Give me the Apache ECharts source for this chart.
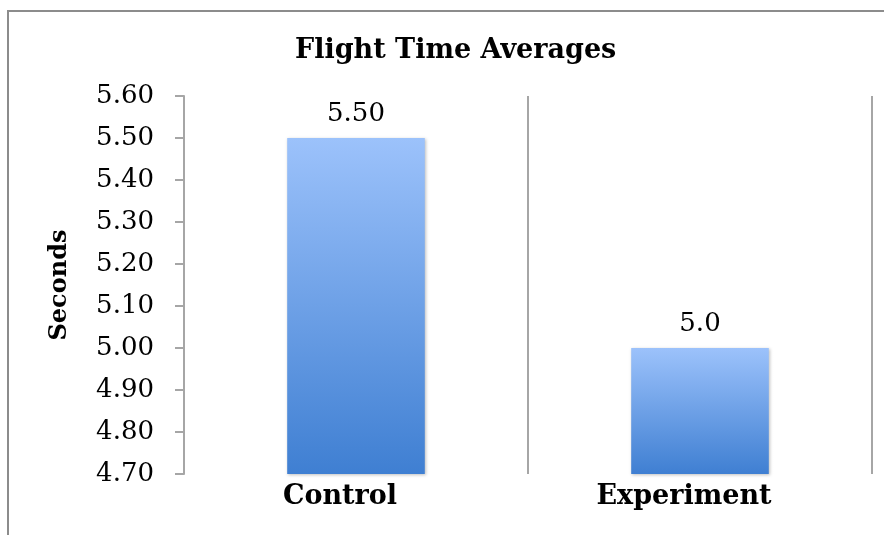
<!DOCTYPE html>
<html>
<head>
<meta charset="utf-8">
<style>
  html, body { margin: 0; padding: 0; background: #fff; }
  #chart { width: 884px; height: 535px; }
</style>
<script src="https://cdn.jsdelivr.net/npm/echarts@6/dist/echarts.min.js"></script>
</head>
<body>
<div id="chart"></div>
<script>
// Average flight times per group
const categories = ['Control', 'Experiment'];
const averages = [5.50, 5.0];
const valueLabels = ['5.50', '5.0'];
const yMin = 4.70;
const yMax = 5.60;
const yStep = 0.10;

const serif = '"DejaVu Serif", "Liberation Serif", serif';
const lineGrey = '#a6a6a6';

const chart = echarts.init(document.getElementById('chart'), null, { renderer: 'canvas' });

chart.setOption({
  backgroundColor: '#ffffff',
  animation: false,
  title: {
    text: 'Flight Time Averages',
    left: 290,
    top: 32,
    textStyle: { fontFamily: serif, fontWeight: 'bold', fontSize: 27, color: '#000' }
  },
  graphic: [{
    type: 'polyline',
    shape: { points: [[8, 535], [8, 11], [884, 11]] },
    style: { stroke: '#8c8c8c', lineWidth: 2, fill: null },
    silent: true
  }],
  grid: { left: 184, right: 12, top: 96, bottom: 61 },
  xAxis: {
    type: 'category',
    data: categories,
    axisLine: { show: false },
    axisTick: { show: false },
    splitLine: { show: true, lineStyle: { color: lineGrey, width: 2 } },
    axisLabel: {
      margin: 9,
      padding: [0, 32, 0, 0],
      fontFamily: serif, fontWeight: 'bold', fontSize: 27, color: '#000'
    }
  },
  yAxis: {
    type: 'value',
    min: yMin,
    max: yMax,
    interval: yStep,
    name: 'Seconds',
    nameLocation: 'middle',
    nameGap: 112,
    nameRotate: 90,
    nameTextStyle: { fontFamily: serif, fontWeight: 'bold', fontSize: 24, color: '#000' },
    axisLine: { show: true, lineStyle: { color: lineGrey, width: 2 } },
    axisTick: { show: true, length: 9, lineStyle: { color: lineGrey, width: 2 } },
    splitLine: { show: false },
    axisLabel: {
      margin: 30,
      formatter: v => v.toFixed(2),
      fontFamily: serif, fontSize: 26, color: '#000'
    }
  },
  series: [{
    type: 'bar',
    data: averages,
    barWidth: '40%',
    itemStyle: {
      color: new echarts.graphic.LinearGradient(0, 0, 0, 1, [
        { offset: 0, color: '#9cc2fb' },
        { offset: 1, color: '#3f7fd2' }
      ]),
      shadowColor: 'rgba(0,0,0,0.25)',
      shadowBlur: 3,
      shadowOffsetX: 1,
      shadowOffsetY: 1
    },
    label: {
      show: true,
      position: 'top',
      distance: 11,
      formatter: p => valueLabels[p.dataIndex],
      fontFamily: serif, fontSize: 26, color: '#000'
    }
  }]
});
</script>
</body>
</html>
